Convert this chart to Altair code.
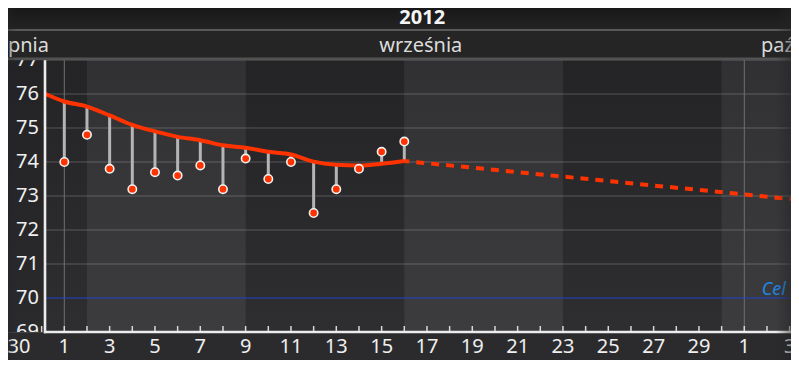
import altair as alt
import pandas as pd

# ---------------- data ----------------
DAYS = [f"2012-09-{d:02d}" for d in range(1, 17)]
WEIGHT = [74.0, 74.8, 73.8, 73.2, 73.7, 73.6, 73.9, 73.2, 74.1, 73.5, 74.0, 72.5, 73.2, 73.8, 74.3, 74.6]
TREND_DAYS = ["2012-08-31"] + DAYS
TREND = [76.05, 75.78, 75.63, 75.37, 75.09, 74.90, 74.74, 74.64, 74.49, 74.42,
         74.30, 74.22, 74.01, 73.92, 73.90, 73.95, 74.03]
FORECAST_DAYS = ["2012-09-16", "2012-10-04"]
FORECAST = [74.03, 72.85]
GOAL = 70.0
GOAL_LABEL = "Cel"
GOAL_LABEL_AT = "2012-10-02T20:00:00Z"
WEEK_START = ["2012-08-26", "2012-09-02", "2012-09-09", "2012-09-16", "2012-09-23", "2012-09-30"]
WEEK_END = ["2012-09-02", "2012-09-09", "2012-09-16", "2012-09-23", "2012-09-30", "2012-10-07"]
WEEK_SHADE = ["dark", "light", "dark", "light", "dark", "light"]
MONTH_LINES = ["2012-09-01", "2012-10-01"]
MONTH_NAMES = ["sierpnia", "września", "października"]
MONTH_AT = ["2012-08-31T07:48:00Z", "2012-09-16T17:30:00Z", "2012-10-01T17:40:00Z"]
MONTH_ALIGN = ["right", "center", "left"]
YEAR_LABEL = "2012"
YEAR_AT = "2012-09-16T19:00:00Z"
Y_TICKS = [69, 70, 71, 72, 73, 74, 75, 76, 77]
X_LABEL_DAYS = ["2012-08-30"] + [f"2012-09-{d:02d}" for d in range(1, 30, 2)] + ["2012-10-01", "2012-10-03"]
X_LABELS = ["30"] + [str(d) for d in range(1, 30, 2)] + ["1", "3"]
X_DOMAIN = ["2012-08-29T12:23:00Z", "2012-10-03T01:27:00Z"]
Y_DOMAIN = [69, 77]

W, H = 783, 272
FONT = "Noto Sans"
RED = "#ff3300"


def ts(s):
    return int(pd.Timestamp(s).value // 10**6)


XS = alt.Scale(type="utc", domain=[ts(X_DOMAIN[0]), ts(X_DOMAIN[1])], nice=False)
YS = alt.Scale(domain=Y_DOMAIN, nice=False, zero=False)


def X(f="date"):
    return alt.X(f"{f}:T", scale=XS, axis=None)


def Y(f="value"):
    return alt.Y(f"{f}:Q", scale=YS, axis=None)


def vgrad(c0, c1):
    return alt.LinearGradient(gradient="linear", x1=0, x2=0, y1=0, y2=1,
                              stops=[alt.GradientStop(color=c0, offset=0),
                                     alt.GradientStop(color=c1, offset=1)])


def hgrad(c0, c1):
    return alt.LinearGradient(gradient="linear", x1=0, x2=1, y1=0, y2=0,
                              stops=[alt.GradientStop(color=c0, offset=0),
                                     alt.GradientStop(color=c1, offset=1)])


one = pd.DataFrame({"k": [0]})
weeks = pd.DataFrame({"start": WEEK_START, "end": WEEK_END, "shade": WEEK_SHADE})
pts = pd.DataFrame({"date": DAYS, "value": WEIGHT, "trend": TREND[1:]})
trend = pd.DataFrame({"date": TREND_DAYS, "value": TREND})
fc = pd.DataFrame({"date": FORECAST_DAYS, "value": FORECAST})
yt = pd.DataFrame({"value": Y_TICKS})
ml = pd.DataFrame({"date": MONTH_LINES})
daily = pd.DataFrame({"date": [d.strftime("%Y-%m-%d") for d in pd.date_range("2012-08-29", "2012-10-04")]})
xl = pd.DataFrame({"date": X_LABEL_DAYS, "label": X_LABELS})
goal = pd.DataFrame({"value": [GOAL], "date": [GOAL_LABEL_AT], "label": [GOAL_LABEL]})

layers = []

# week bands
layers.append(alt.Chart(weeks).transform_filter("datum.shade == 'dark'")
              .mark_rect(fill=vgrad("#242427", "#2e2e31"), clip=True)
              .encode(x=X("start"), x2="end:T", y=alt.value(0), y2=alt.value(H)))
layers.append(alt.Chart(weeks).transform_filter("datum.shade == 'light'")
              .mark_rect(fill=vgrad("#313134", "#3c3c3f"), clip=True)
              .encode(x=X("start"), x2="end:T", y=alt.value(0), y2=alt.value(H)))

# horizontal grid
layers.append(alt.Chart(yt).transform_filter(f"datum.value != {GOAL}")
              .mark_rule(color="#ffffff", opacity=0.22, strokeWidth=1)
              .encode(y=Y("value")))
# month lines
layers.append(alt.Chart(ml).mark_rule(color="#707070", strokeWidth=1, clip=True)
              .encode(x=X("date"), y=alt.value(0), y2=alt.value(H)))
# goal line + label
layers.append(alt.Chart(goal).mark_rule(color="#2242cc", strokeWidth=1.1)
              .encode(y=Y("value")))
layers.append(alt.Chart(goal).mark_text(font=FONT, fontSize=18, fontStyle="italic", color="#1d87e4",
                                        align="right", baseline="alphabetic", dy=-3)
              .encode(x=X("date"), y=Y("value"), text="label:N"))

# stems
layers.append(alt.Chart(pts).mark_rule(color="#b4b4b4", strokeWidth=3)
              .encode(x=X("date"), y=Y("value"), y2="trend:Q"))
# trend
layers.append(alt.Chart(trend).mark_line(color=RED, strokeWidth=4, interpolate="monotone", clip=True)
              .encode(x=X("date"), y=Y("value")))
# forecast
layers.append(alt.Chart(fc).mark_line(color=RED, strokeWidth=4, strokeDash=[8, 7], strokeDashOffset=3, clip=True)
              .encode(x=X("date"), y=Y("value")))
# points
layers.append(alt.Chart(pts).mark_circle(size=70, fill=RED, stroke="#f2f2f2", strokeWidth=1.6, opacity=1)
              .encode(x=X("date"), y=Y("value")))

# left panel behind y labels
layers.append(alt.Chart(one).mark_rect(fill=vgrad("#232326", "#2a2a2d"))
              .encode(x=alt.value(0), x2=alt.value(36), y=alt.value(0), y2=alt.value(H)))
layers.append(alt.Chart(yt).mark_text(font=FONT, fontSize=20, color="#f0f0f0", align="right",
                                      baseline="alphabetic", dy=6, clip=True)
              .encode(x=alt.value(31), y=Y("value"), text="value:Q"))
layers.append(alt.Chart(one).mark_rule(color="#ececec", strokeWidth=2.6)
              .encode(x=alt.value(37), y=alt.value(-0.5), y2=alt.value(H + 1.3)))

# daily ticks, x labels, x axis line
layers.append(alt.Chart(daily).mark_rule(color="#d8d8d8", strokeWidth=1.5, clip=True)
              .encode(x=X("date"), y=alt.value(H - 6), y2=alt.value(H)))
layers.append(alt.Chart(xl).mark_text(font=FONT, fontSize=20, color="#efefef", align="center",
                                      baseline="alphabetic")
              .encode(x=X("date"), y=alt.value(H + 20.5), text="label:N"))
layers.append(alt.Chart(one).mark_rule(color="#ececec", strokeWidth=2.6)
              .encode(x=alt.value(36), x2=alt.value(W), y=alt.value(H)))

# header
layers.append(alt.Chart(one).mark_rect(fill=vgrad("#181818", "#232323"))
              .encode(x=alt.value(0), x2=alt.value(W), y=alt.value(-52), y2=alt.value(-30.5)))
layers.append(alt.Chart(one).mark_rect(fill="#252525")
              .encode(x=alt.value(0), x2=alt.value(W), y=alt.value(-30), y2=alt.value(-2.5)))
layers.append(alt.Chart(one).mark_rule(color="#8c8c8c", strokeWidth=1)
              .encode(x=alt.value(0), x2=alt.value(W), y=alt.value(-30)))
layers.append(alt.Chart(one).mark_rect(fill="#525252")
              .encode(x=alt.value(0), x2=alt.value(W), y=alt.value(-2.5), y2=alt.value(0.3)))
layers.append(alt.Chart(pd.DataFrame({"date": [YEAR_AT], "label": [YEAR_LABEL]}))
              .mark_text(font=FONT, fontSize=20, fontWeight="bold", color="#f5f5f5",
                         align="center", baseline="alphabetic")
              .encode(x=X("date"), y=alt.value(-36.5), text="label:N"))
for name, at, al in zip(MONTH_NAMES, MONTH_AT, MONTH_ALIGN):
    layers.append(alt.Chart(pd.DataFrame({"date": [at], "label": [name]}))
                  .mark_text(font=FONT, fontSize=20, color="#dcdcdc", align=al, baseline="alphabetic")
                  .encode(x=X("date"), y=alt.value(-8), text="label:N"))

# edge fades
layers.append(alt.Chart(one).mark_rect(fill=hgrad("rgba(36,36,38,0)", "rgba(36,36,38,0.5)"))
              .encode(x=alt.value(768), x2=alt.value(W), y=alt.value(-52), y2=alt.value(H + 28)))
layers.append(alt.Chart(one).mark_rect(fill=hgrad("rgba(36,36,38,0.35)", "rgba(36,36,38,0)"))
              .encode(x=alt.value(0), x2=alt.value(8), y=alt.value(-52), y2=alt.value(H + 28)))

chart = (alt.layer(*layers)
         .properties(width=W, height=H,
                     padding={"left": 0, "right": 0, "top": 52, "bottom": 28},
                     autosize=alt.AutoSizeParams(type="none"),
                     background="#2b2b2e")
         .configure_view(stroke=None))

chart.save("out.html", embed_options={"renderer": "svg", "actions": False})
